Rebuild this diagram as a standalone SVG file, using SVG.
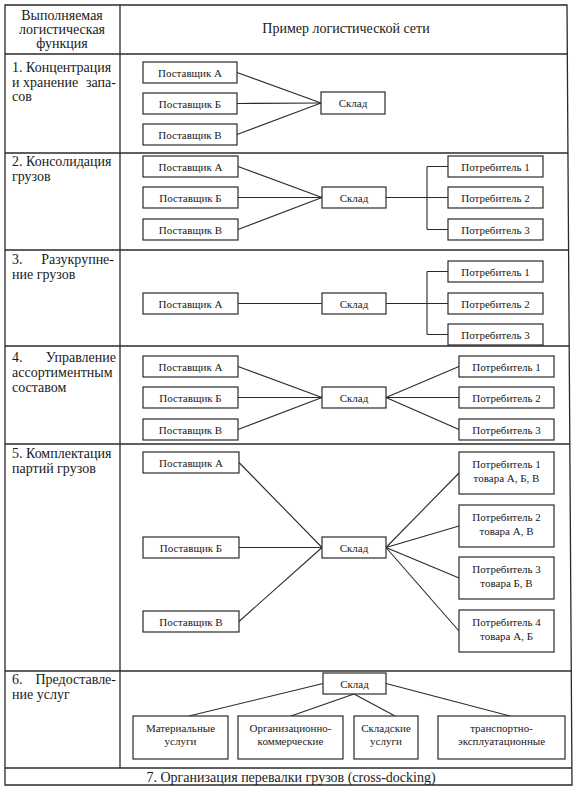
<svg xmlns="http://www.w3.org/2000/svg" width="578" height="791" viewBox="0 0 578 791">
<style>
.grid{stroke:#2a2a2a;stroke-width:1.3;fill:none}
.box rect{fill:#fff;stroke:#2a2a2a;stroke-width:1.2}
.box text{font-family:"Liberation Serif","Times New Roman",serif;font-size:11px;fill:#1a1a1a;text-anchor:middle}
.lbl{font-family:"Liberation Serif","Times New Roman",serif;font-size:14px;fill:#1a1a1a}
.c{text-anchor:middle}
.e{text-anchor:end}
#connectors path,#connectors line{stroke:#2a2a2a;stroke-width:1.1;fill:none}
</style>
<rect width="578" height="791" fill="#fff"/>
<g id="table" class="grid">
<path d="M5,5 L567,5 L572,785 L5,785 Z"/>
<line x1="120" y1="5" x2="120" y2="768"/>
<line x1="5" y1="54" x2="567.3" y2="54"/>
<line x1="5" y1="153" x2="568" y2="153"/>
<line x1="5" y1="250" x2="568.6" y2="250"/>
<line x1="5" y1="346" x2="569.2" y2="346"/>
<line x1="5" y1="444" x2="569.8" y2="444"/>
<line x1="5" y1="671" x2="571.3" y2="671"/>
<line x1="5" y1="768" x2="571.9" y2="768"/>
</g>
<g id="labels">
<text class="lbl c" x="62" y="20">Выполняемая</text>
<text class="lbl c" x="62" y="34">логистическая</text>
<text class="lbl c" x="62" y="48">функция</text>
<text class="lbl c" x="346" y="33">Пример логистической сети</text>
<text class="lbl" x="12" y="72">1. Концентрация</text>
<text class="lbl" x="12" y="87">и хранение</text><text class="lbl e" x="116" y="87">запа-</text>
<text class="lbl" x="12" y="101">сов</text>
<text class="lbl" x="12" y="166">2. Консолидация</text>
<text class="lbl" x="12" y="181">грузов</text>
<text class="lbl" x="12" y="264">3.</text><text class="lbl e" x="114" y="264">Разукрупне-</text>
<text class="lbl" x="12" y="279">ние грузов</text>
<text class="lbl" x="12" y="362">4.</text><text class="lbl e" x="116" y="362">Управление</text>
<text class="lbl" x="12" y="377">ассортиментным</text>
<text class="lbl" x="12" y="392">составом</text>
<text class="lbl" x="12" y="458">5. Комплектация</text>
<text class="lbl" x="12" y="473">партий грузов</text>
<text class="lbl" x="12" y="684">6.</text><text class="lbl e" x="116" y="684">Предоставле-</text>
<text class="lbl" x="12" y="699">ние услуг</text>
<text class="lbl c" x="291" y="782">7. Организация перевалки грузов (cross-docking)</text>
</g>
<g id="connectors">
<line x1="237" y1="72.5" x2="321" y2="103"/>
<line x1="237" y1="103.5" x2="321" y2="103"/>
<line x1="237" y1="134.5" x2="321" y2="103"/>
<line x1="238" y1="166.5" x2="322" y2="197.5"/>
<line x1="238" y1="197.5" x2="322" y2="197.5"/>
<line x1="238" y1="229.5" x2="322" y2="197.5"/>
<path d="M386,197.5 H427 M427,166.5 V229.5 M427,166.5 H448 M427,197.5 H448 M427,229.5 H448"/>
<line x1="238" y1="303.5" x2="322" y2="303.5"/>
<path d="M386,303.5 H427 M427,271.5 V334.5 M427,271.5 H448 M427,303.5 H448 M427,334.5 H448"/>
<line x1="238" y1="366.5" x2="322" y2="397.5"/>
<line x1="238" y1="397.5" x2="322" y2="397.5"/>
<line x1="238" y1="429.5" x2="322" y2="397.5"/>
<line x1="386" y1="397.5" x2="459" y2="366.5"/>
<line x1="386" y1="397.5" x2="459" y2="397.5"/>
<line x1="386" y1="397.5" x2="459" y2="429.5"/>
<line x1="239" y1="462.5" x2="322" y2="547.5"/>
<line x1="239" y1="547.5" x2="322" y2="547.5"/>
<line x1="239" y1="621.5" x2="322" y2="547.5"/>
<line x1="386" y1="547.5" x2="459" y2="473"/>
<line x1="386" y1="547.5" x2="459" y2="526"/>
<line x1="386" y1="547.5" x2="459" y2="578"/>
<line x1="386" y1="547.5" x2="459" y2="631"/>
<line x1="323" y1="683.5" x2="189" y2="716"/>
<line x1="354" y1="694" x2="291" y2="716"/>
<line x1="354" y1="694" x2="395" y2="716"/>
<line x1="386" y1="683.5" x2="510" y2="716"/>
</g>
<!-- Row 1 -->
<g id="r1-supA" class="box"><rect x="143" y="62" width="94" height="21"/><text x="190" y="76.5">Поставщик А</text></g>
<g id="r1-supB" class="box"><rect x="143" y="93" width="94" height="21"/><text x="190" y="107.5">Поставщик Б</text></g>
<g id="r1-supV" class="box"><rect x="143" y="124" width="94" height="21"/><text x="190" y="138.5">Поставщик В</text></g>
<g id="r1-sklad" class="box"><rect x="321" y="92" width="64" height="22"/><text x="353" y="107">Склад</text></g>
<!-- Row 2 -->
<g id="r2-supA" class="box"><rect x="143" y="156" width="95" height="21"/><text x="190.5" y="170.5">Поставщик А</text></g>
<g id="r2-supB" class="box"><rect x="143" y="187" width="95" height="21"/><text x="190.5" y="201.5">Поставщик Б</text></g>
<g id="r2-supV" class="box"><rect x="143" y="219" width="95" height="21"/><text x="190.5" y="233.5">Поставщик В</text></g>
<g id="r2-sklad" class="box"><rect x="322" y="187" width="64" height="21"/><text x="354" y="201.5">Склад</text></g>
<g id="r2-c1" class="box"><rect x="448" y="156" width="95" height="21"/><text x="495.5" y="170.5">Потребитель 1</text></g>
<g id="r2-c2" class="box"><rect x="448" y="187" width="95" height="21"/><text x="495.5" y="201.5">Потребитель 2</text></g>
<g id="r2-c3" class="box"><rect x="448" y="219" width="95" height="21"/><text x="495.5" y="233.5">Потребитель 3</text></g>
<!-- Row 3 -->
<g id="r3-supA" class="box"><rect x="143" y="293" width="95" height="21"/><text x="190.5" y="307.5">Поставщик А</text></g>
<g id="r3-sklad" class="box"><rect x="322" y="293" width="64" height="21"/><text x="354" y="307.5">Склад</text></g>
<g id="r3-c1" class="box"><rect x="448" y="261" width="95" height="21"/><text x="495.5" y="275.5">Потребитель 1</text></g>
<g id="r3-c2" class="box"><rect x="448" y="293" width="95" height="21"/><text x="495.5" y="307.5">Потребитель 2</text></g>
<g id="r3-c3" class="box"><rect x="448" y="324" width="95" height="21"/><text x="495.5" y="338.5">Потребитель 3</text></g>
<!-- Row 4 -->
<g id="r4-supA" class="box"><rect x="143" y="356" width="95" height="21"/><text x="190.5" y="370.5">Поставщик А</text></g>
<g id="r4-supB" class="box"><rect x="143" y="387" width="95" height="21"/><text x="190.5" y="401.5">Поставщик Б</text></g>
<g id="r4-supV" class="box"><rect x="143" y="419" width="95" height="21"/><text x="190.5" y="433.5">Поставщик В</text></g>
<g id="r4-sklad" class="box"><rect x="322" y="387" width="64" height="21"/><text x="354" y="401.5">Склад</text></g>
<g id="r4-c1" class="box"><rect x="459" y="356" width="95" height="21"/><text x="506.5" y="370.5">Потребитель 1</text></g>
<g id="r4-c2" class="box"><rect x="459" y="387" width="95" height="21"/><text x="506.5" y="401.5">Потребитель 2</text></g>
<g id="r4-c3" class="box"><rect x="459" y="419" width="95" height="21"/><text x="506.5" y="433.5">Потребитель 3</text></g>
<!-- Row 5 -->
<g id="r5-supA" class="box"><rect x="143" y="452" width="96" height="21"/><text x="191" y="466.5">Поставщик А</text></g>
<g id="r5-supB" class="box"><rect x="143" y="537" width="96" height="21"/><text x="191" y="551.5">Поставщик Б</text></g>
<g id="r5-supV" class="box"><rect x="143" y="611" width="96" height="21"/><text x="191" y="625.5">Поставщик В</text></g>
<g id="r5-sklad" class="box"><rect x="322" y="537" width="64" height="21"/><text x="354" y="551.5">Склад</text></g>
<g id="r5-c1" class="box"><rect x="459" y="452" width="95" height="42"/><text x="506.5" y="468">Потребитель 1</text><text x="506.5" y="481.5">товара А, Б, В</text></g>
<g id="r5-c2" class="box"><rect x="459" y="505" width="95" height="42"/><text x="506.5" y="521">Потребитель 2</text><text x="506.5" y="534.5">товара А, В</text></g>
<g id="r5-c3" class="box"><rect x="459" y="557" width="95" height="42"/><text x="506.5" y="573">Потребитель 3</text><text x="506.5" y="586.5">товара Б, В</text></g>
<g id="r5-c4" class="box"><rect x="459" y="610" width="95" height="42"/><text x="506.5" y="626">Потребитель 4</text><text x="506.5" y="639.5">товара А, Б</text></g>
<!-- Row 6 -->
<g id="r6-sklad" class="box"><rect x="323" y="673" width="63" height="21"/><text x="354.5" y="687.5">Склад</text></g>
<g id="r6-mat" class="box"><rect x="133" y="716" width="95" height="43"/><text x="180.5" y="732">Материальные</text><text x="180.5" y="745">услуги</text></g>
<g id="r6-org" class="box"><rect x="238" y="716" width="105" height="43"/><text x="290.5" y="732">Организационно-</text><text x="290.5" y="745">коммерческие</text></g>
<g id="r6-skl" class="box"><rect x="354" y="716" width="64" height="43"/><text x="386" y="732">Складские</text><text x="386" y="745">услуги</text></g>
<g id="r6-tr" class="box"><rect x="438" y="716" width="127" height="43"/><text x="501.5" y="732">транспортно-</text><text x="501.5" y="745">эксплуатационные</text></g>
</svg>
